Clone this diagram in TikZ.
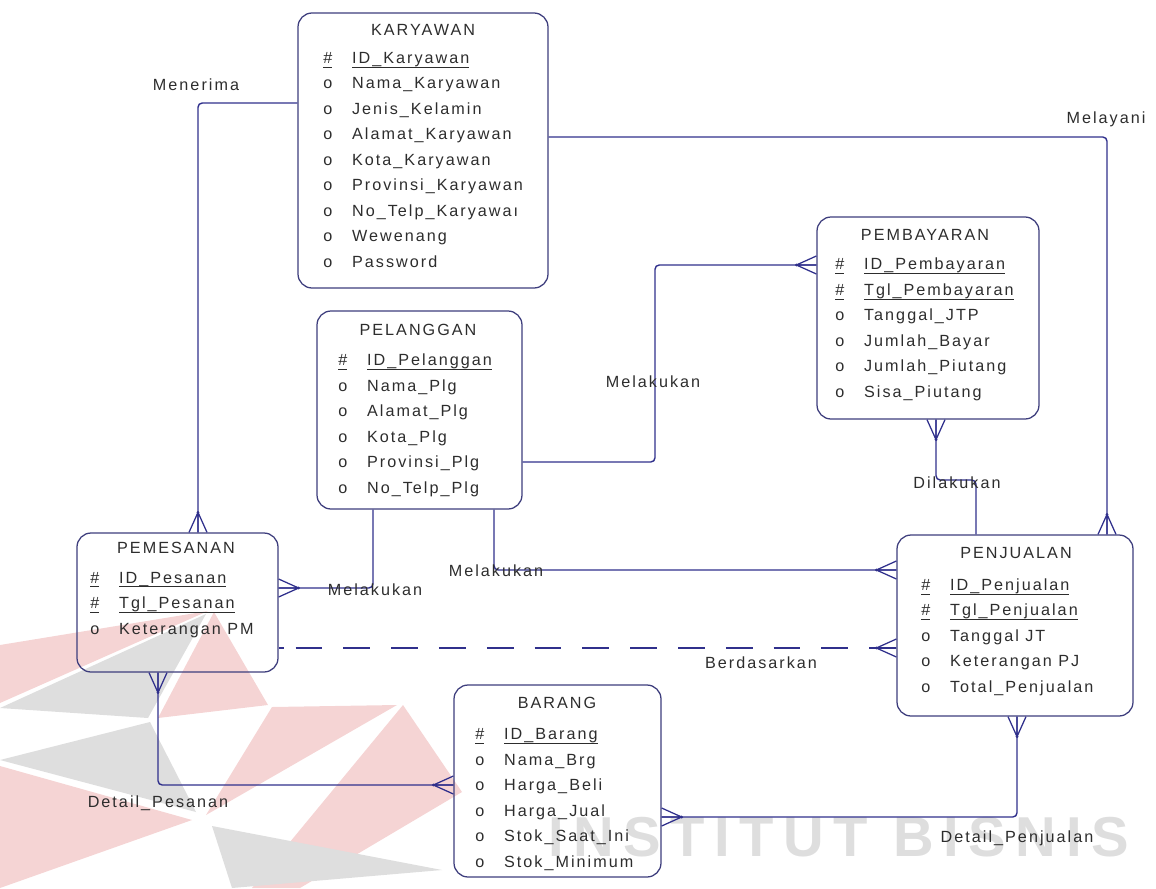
\documentclass[tikz,border=0pt]{standalone}
\usepackage{fontspec}
\setmainfont{Liberation Sans}
\newfontfamily\erfont[LetterSpace=12.5]{Liberation Sans}
\newfontfamily\wmfont[LetterSpace=17]{Liberation Sans}
\usetikzlibrary{positioning,fit}
\definecolor{erline}{RGB}{48,48,140}
\definecolor{erbox}{RGB}{62,62,125}
\definecolor{ertext}{RGB}{45,45,45}
\definecolor{wmpink}{RGB}{245,212,212}
\definecolor{wmgray}{RGB}{222,222,222}
\newcommand\erul[1]{\underline{\raisebox{0pt}[\height][0pt]{#1}\rule[-1.2pt]{0pt}{1.2pt}}}
\newcommand\erpk[1]{\makebox[20.5pt][l]{\erul{\#}}\erul{#1}}
\newcommand\erat[1]{\makebox[20.5pt][l]{o}#1}
\tikzset{%
entity/.style={draw=erbox,line width=0.9pt,rounded corners=10pt,inner sep=0pt},
etitle/.style={font=\erfont\fontsize{11.5}{14}\selectfont,text=ertext,inner sep=0pt,anchor=base},
attrs/.style={font=\erfont\fontsize{11.5}{18.1}\selectfont,text=ertext,align=left,inner sep=0pt,anchor=base west},
rel/.style={draw=erline,line width=1pt,rounded corners=3pt},
rlabel/.style={font=\erfont\fontsize{11.5}{14}\selectfont,text=ertext,inner sep=0pt,anchor=base},
crow/.pic={\draw[erline,line width=0.9pt,line join=round] (0,-9) -- (-20,0) -- (0,9) (0,0) -- (-20,0);
           \fill[erline] (-20,0) circle (1.6);}
}

\begin{document}
\begin{tikzpicture}[x=0.025cm,y=-0.025cm]
\useasboundingbox (0,0) rectangle (1156,888);
% watermark
\fill[wmpink] (0,645) -- (208,611) -- (0,703) -- cycle;
\fill[wmgray] (0,708) -- (206,614) -- (148,718) -- cycle;
\fill[wmpink] (214,612) -- (268,705) -- (158,718) -- cycle;
\fill[wmpink] (272,707) -- (397,705) -- (206,815) -- cycle;
\fill[wmpink] (403,705) -- (462,792) -- (300,888) -- (252,888) -- cycle;
\fill[wmgray] (0,760) -- (150,722) -- (196,812) -- cycle;
\fill[wmpink] (0,766) -- (192,820) -- (0,888) -- cycle;
\fill[wmgray] (212,826) -- (442,870) -- (232,888) -- cycle;
\node[font=\wmfont\bfseries\fontsize{40}{40}\selectfont,text=wmgray,inner sep=0pt,anchor=base west] (wm) at (548,856) {INSTITUT BISNIS};

% entities (attribute lists sit on the baseline of their last row)
\node[entity,fit={(298,13) (548,288)}] (karyawan) {};
\node[etitle] (karyawanT) at (423,35) {KARYAWAN};
\node[attrs] (karyawanA) at (323,267) {\erpk{ID\_Karyawan}\\ \erat{Nama\_Karyawan}\\ \erat{Jenis\_Kelamin}\\
  \erat{Alamat\_Karyawan}\\ \erat{Kota\_Karyawan}\\ \erat{Provinsi\_Karyawan}\\ \erat{No\_Telp\_Karyawa\i}\\
  \erat{Wewenang}\\ \erat{Password}};

\node[entity,fit={(817,217) (1039,419)}] (pembayaran) {};
\node[etitle] (pembayaranT) at (925,240) {PEMBAYARAN};
\node[attrs] (pembayaranA) at (835,397) {\erpk{ID\_Pembayaran}\\ \erpk{Tgl\_Pembayaran}\\ \erat{Tanggal\_JTP}\\
  \erat{Jumlah\_Bayar}\\ \erat{Jumlah\_Piutang}\\ \erat{Sisa\_Piutang}};

\node[entity,fit={(317,311) (522,509)}] (pelanggan) {};
\node[etitle] (pelangganT) at (418,335) {PELANGGAN};
\node[attrs] (pelangganA) at (338,493) {\erpk{ID\_Pelanggan}\\ \erat{Nama\_Plg}\\ \erat{Alamat\_Plg}\\
  \erat{Kota\_Plg}\\ \erat{Provinsi\_Plg}\\ \erat{No\_Telp\_Plg}};

\node[entity,fit={(77,533) (278,672)}] (pemesanan) {};
\node[etitle] (pemesananT) at (176,553) {PEMESANAN};
\node[attrs] (pemesananA) at (90,634) {\erpk{ID\_Pesanan}\\ \erpk{Tgl\_Pesanan}\\ \erat{Keterangan PM}};

\node[entity,fit={(897,535) (1133,716)}] (penjualan) {};
\node[etitle] (penjualanT) at (1016,558) {PENJUALAN};
\node[attrs] (penjualanA) at (921,692) {\erpk{ID\_Penjualan}\\ \erpk{Tgl\_Penjualan}\\ \erat{Tanggal JT}\\
  \erat{Keterangan PJ}\\ \erat{Total\_Penjualan}};

\node[entity,fit={(454,685) (661,877)}] (barang) {};
\node[etitle] (barangT) at (557,708) {BARANG};
\node[attrs] (barangA) at (475,867) {\erpk{ID\_Barang}\\ \erat{Nama\_Brg}\\ \erat{Harga\_Beli}\\
  \erat{Harga\_Jual}\\ \erat{Stok\_Saat\_Ini}\\ \erat{Stok\_Minimum}};

% relationships
\coordinate (menerimaB) at (198,103);
\draw[rel] (karyawan.west |- menerimaB) -- (menerimaB) -- (menerimaB |- pemesanan.north);
\pic[rotate=-90] at (menerimaB |- pemesanan.north) {crow};
\node[rlabel] (menerimaL) at (196,90) {Menerima};

\coordinate (melayaniB) at (1107,137);
\draw[rel] (karyawan.east |- melayaniB) -- (melayaniB) -- (melayaniB |- penjualan.north);
\pic[rotate=-90] at (melayaniB |- penjualan.north) {crow};
\node[rlabel] (melayaniL) at (1106,123) {Melayani};

\coordinate (lakuA) at (655,462);
\coordinate (lakuB) at (655,265);
\draw[rel] (pelanggan.east |- lakuA) -- (lakuA) -- (lakuB) -- (lakuB -| pembayaran.west);
\pic at (lakuB -| pembayaran.west) {crow};
\node[rlabel] (lakuL1) at (653,387) {Melakukan};

\coordinate (dilakuA) at (936,480);
\coordinate (dilakuB) at (976,480);
\draw[rel] (dilakuA |- pembayaran.south) -- (dilakuA) -- (dilakuB) -- (dilakuB |- penjualan.north);
\pic[rotate=90] at (dilakuA |- pembayaran.south) {crow};
\node[rlabel] (dilakuL) at (957,488) {Dilakukan};

\coordinate (lakuC) at (373,588);
\draw[rel] (lakuC |- pelanggan.south) -- (lakuC) -- (lakuC -| pemesanan.east);
\pic[rotate=180] at (lakuC -| pemesanan.east) {crow};
\node[rlabel] (lakuL2) at (375,595) {Melakukan};

\coordinate (lakuD) at (494,570);
\draw[rel] (lakuD |- pelanggan.south) -- (lakuD) -- (lakuD -| penjualan.west);
\pic at (lakuD -| penjualan.west) {crow};
\node[rlabel] (lakuL3) at (496,576) {Melakukan};

\coordinate (dasarA) at (0,648);
\draw[rel] (pemesanan.east |- dasarA) -- ++(5,0);
\draw[rel,dash pattern=on 19.1pt off 14.9pt,dash phase=22pt] (pemesanan.east |- dasarA) -- (penjualan.west |- dasarA);
\pic at (penjualan.west |- dasarA) {crow};
\node[rlabel] (dasarL) at (761,668) {Berdasarkan};

\coordinate (dpesA) at (158,785);
\draw[rel] (dpesA |- pemesanan.south) -- (dpesA) -- (dpesA -| barang.west);
\pic[rotate=90] at (dpesA |- pemesanan.south) {crow};
\pic at (dpesA -| barang.west) {crow};
\node[rlabel] (dpesL) at (158,807) {Detail\_Pesanan};

\coordinate (dpenA) at (1017,817);
\draw[rel] (dpenA |- penjualan.south) -- (dpenA) -- (dpenA -| barang.east);
\pic[rotate=90] at (dpenA |- penjualan.south) {crow};
\pic[rotate=180] at (dpenA -| barang.east) {crow};
\node[rlabel] (dpenL) at (1017,842) {Detail\_Penjualan};
\end{tikzpicture}
\end{document}
